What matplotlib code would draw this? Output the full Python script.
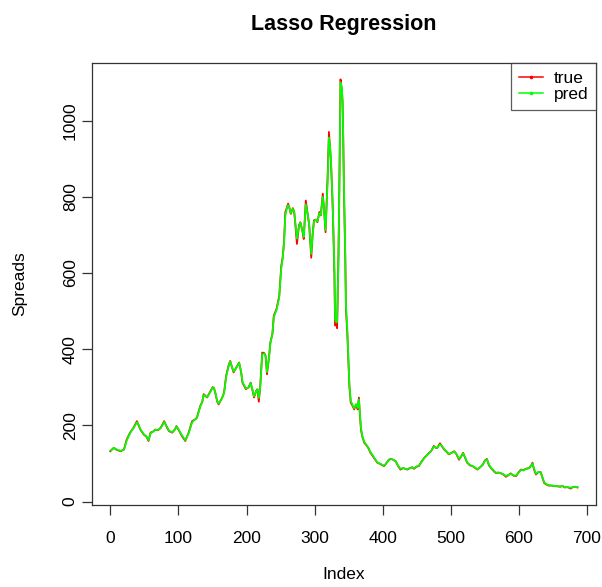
import numpy as np
import matplotlib.pyplot as plt
from matplotlib.lines import Line2D

plt.rcParams['font.family'] = ['Liberation Sans', 'DejaVu Sans']

# index positions
idx = [0, 3, 5, 9, 15, 20, 24, 29, 34, 39, 42, 44, 49, 53, 56, 59, 63, 66, 70, 74,
       79, 83, 86, 91, 95, 97, 100, 105, 110, 115, 120, 124, 127, 132, 135, 137, 142, 147, 150, 152,
       154, 157, 159, 164, 167, 170, 174, 176, 179, 181, 185, 189, 192, 194, 199, 203, 206, 209, 211, 214,
       216, 218, 220, 223, 226, 228, 230, 233, 235, 238, 240, 244, 248, 251, 253, 255, 257, 259, 261, 263,
       265, 268, 270, 272, 274, 277, 279, 282, 284, 287, 290, 292, 295, 297, 299, 302, 304, 307, 309, 312,
       314, 316, 319, 321, 323, 324, 326, 327, 329, 330, 332, 333, 335, 336, 337, 338, 340, 341, 342, 343,
       345, 346, 348, 350, 351, 353, 356, 358, 361, 363, 365, 366, 368, 370, 373, 376, 379, 382, 386, 389,
       392, 395, 397, 400, 402, 405, 409, 412, 415, 419, 422, 426, 430, 433, 436, 440, 443, 446, 450, 453,
       457, 461, 464, 468, 471, 475, 478, 480, 484, 487, 490, 494, 497, 501, 505, 508, 512, 515, 518, 521,
       524, 528, 532, 536, 539, 543, 547, 550, 553, 556, 559, 563, 566, 570, 574, 578, 581, 585, 588, 592,
       596, 600, 603, 607, 610, 615, 618, 620, 622, 625, 629, 632, 635, 637, 640, 644, 648, 652, 657, 661,
       664, 667, 671, 674, 676, 679, 682, 686]

true = [132, 138, 141, 136, 132, 137, 163, 181, 194, 211, 198, 189, 176, 170, 159, 181, 184, 189, 187, 194,
        211, 195, 185, 181, 190, 198, 189, 172, 159, 181, 211, 215, 220, 251, 262, 282, 273, 290, 300, 299,
        286, 262, 255, 272, 286, 330, 360, 369, 350, 339, 352, 365, 340, 312, 295, 300, 312, 290, 273, 290,
        295, 262, 300, 391, 390, 382, 334, 380, 418, 440, 488, 505, 540, 619, 640, 681, 760, 770, 782, 770,
        755, 770, 760, 720, 676, 725, 733, 710, 689, 790, 750, 725, 640, 700, 738, 740, 733, 760, 751, 808,
        760, 707, 850, 970, 920, 891, 800, 742, 600, 462, 465, 455, 650, 786, 950, 1108, 1080, 1049, 950, 821,
        637, 505, 440, 347, 303, 260, 250, 242, 255, 242, 273, 240, 189, 170, 154, 148, 140, 128, 118, 110,
        102, 100, 98, 95, 93, 100, 110, 112, 110, 106, 95, 84, 88, 86, 84, 88, 90, 86, 92, 93,
        105, 115, 120, 128, 132, 146, 141, 141, 153, 145, 137, 130, 124, 128, 132, 125, 110, 118, 128, 115,
        102, 95, 93, 88, 84, 90, 97, 108, 112, 95, 88, 80, 75, 76, 74, 70, 65, 70, 74, 68,
        67, 78, 84, 82, 86, 88, 95, 102, 85, 71, 78, 77, 60, 49, 45, 42, 42, 41, 40, 39,
        41, 37, 38, 36, 34, 38, 39, 37]

pred = [134, 137, 141, 137, 133, 136, 160, 180, 193, 208, 200, 190, 177, 171, 161, 179, 184, 188, 188, 193,
        209, 197, 186, 182, 189, 197, 190, 174, 161, 179, 208, 215, 219, 249, 262, 280, 274, 288, 299, 299,
        287, 264, 257, 271, 285, 327, 358, 368, 351, 341, 351, 364, 342, 314, 297, 299, 311, 292, 276, 289,
        294, 272, 298, 386, 389, 382, 340, 378, 415, 440, 484, 503, 536, 612, 638, 676, 752, 768, 778, 771,
        757, 768, 760, 724, 690, 722, 732, 712, 694, 780, 752, 727, 650, 698, 735, 740, 735, 757, 752, 800,
        762, 712, 840, 955, 925, 893, 805, 748, 610, 480, 470, 472, 640, 780, 945, 1100, 1085, 1050, 955, 830,
        645, 515, 450, 352, 308, 265, 252, 245, 255, 246, 268, 244, 194, 172, 156, 149, 141, 130, 119, 111,
        103, 100, 99, 96, 94, 100, 109, 112, 110, 106, 96, 86, 88, 86, 85, 88, 90, 87, 92, 94,
        104, 114, 120, 127, 132, 144, 142, 141, 150, 146, 138, 131, 125, 128, 131, 126, 112, 118, 127, 116,
        103, 96, 93, 89, 85, 90, 97, 107, 111, 97, 89, 81, 76, 76, 74, 71, 67, 70, 73, 69,
        68, 77, 83, 82, 85, 88, 94, 100, 88, 73, 78, 77, 62, 51, 46, 43, 42, 41, 40, 40,
        41, 38, 38, 37, 36, 38, 39, 38]

fig = plt.figure(figsize=(6.02, 5.87), dpi=100)
ax = fig.add_axes([0.1523, 0.1397, 0.838, 0.753])

ax.plot(idx, true, color='#FF0000', lw=1.3)
ax.plot(idx, pred, color='#00FF00', lw=1.3)

ax.margins(x=0.04, y=0.04)
ax.set_xticks([0, 100, 200, 300, 400, 500, 600, 700])
ax.set_yticks([0, 200, 400, 600, 800, 1000])
ax.tick_params(direction='out', length=7.5, width=0.9, labelsize=12.5, color='#333333')
ax.tick_params(axis='x', pad=11)
ax.tick_params(axis='y', pad=2.5)
for lab in ax.get_yticklabels():
    lab.set_rotation(90)
    lab.set_va('center')
for s in ax.spines.values():
    s.set_linewidth(0.9)
    s.set_color('#333333')

ax.set_title('Lasso Regression', fontsize=15.5, fontweight='bold', pad=23.5)
ax.set_xlabel('Index', fontsize=12.5, va='top')
ax.xaxis.set_label_coords(0.5, -0.14)
ax.set_ylabel('Spreads', fontsize=12.5)
ax.yaxis.set_label_coords(-0.128, 0.5)

handles = [Line2D([], [], color='#FF0000', lw=1.1, marker='o', markersize=1.6),
           Line2D([], [], color='#00FF00', lw=1.1, marker='o', markersize=1.6)]
leg = ax.legend(handles, ['true', 'pred'], loc='upper right', fontsize=12.5, frameon=True,
                fancybox=False, borderaxespad=0, handlelength=1.4, borderpad=0.45,
                labelspacing=0.05, handletextpad=0.6)
leg.get_frame().set_edgecolor('#333333')
leg.get_frame().set_linewidth(0.9)

fig.savefig('out.png', dpi=100)
